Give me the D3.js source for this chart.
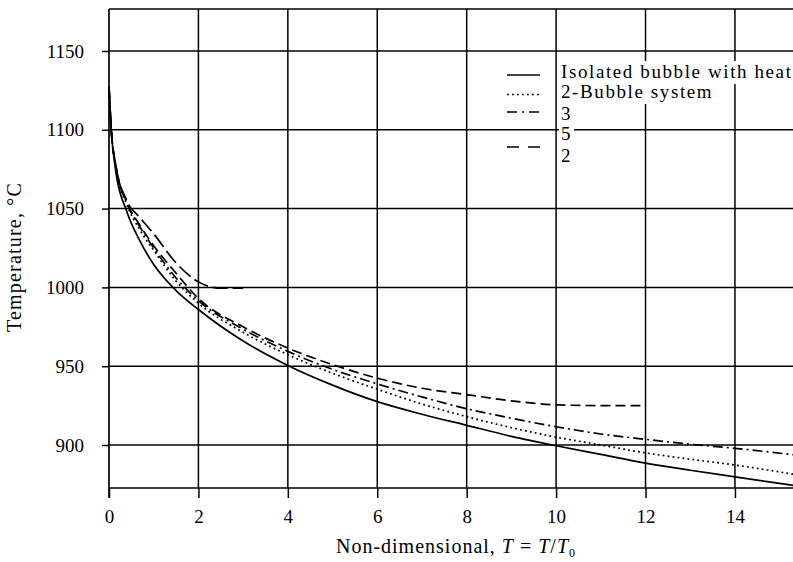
<!DOCTYPE html>
<html>
<head>
<meta charset="utf-8">
<script src="https://cdn.jsdelivr.net/npm/d3@7"></script>
<style>
body { margin: 0; background: #fff; }
svg { display: block; font-family: "Liberation Serif", "Times New Roman", serif; }
</style>
</head>
<body>
<div id="chart"></div>
<script>
// series labels, as printed in the legend
const seriesNames = ['Isolated bubble with heat', '2-Bubble system', '3', '5', '2'];

// non-dimensional time T/T0 and temperature (deg C)
const tIsolated = [0, 0.05, 0.15, 0.4, 0.7, 1, 1.5, 2, 3, 4, 5, 6, 7, 8, 9, 10, 11, 12, 13, 14, 15.4];
const tempIsolated = [1127, 1100, 1074, 1048, 1029, 1014.5, 998, 986, 966, 950.5, 938, 927.5, 919.5, 912.5, 905.5, 899.5, 894, 888.5, 884, 879.8, 874];

const tTwoBubble = [0, 0.05, 0.15, 0.4, 0.7, 1, 1.5, 2, 3, 4, 5, 6, 7, 8, 9, 10, 11, 12, 13, 14, 15.4];
const tempTwoBubble = [1127, 1100, 1076, 1052.5, 1036, 1023.5, 1004, 990, 971.5, 957.3, 945.5, 935.4, 926, 918, 911, 905, 900, 895, 891, 887.3, 881];

const tThree = [0, 0.05, 0.15, 0.4, 0.7, 1, 1.5, 2, 3, 4, 5, 6, 7, 8, 9, 10, 11, 12, 13, 14, 15.4];
const tempThree = [1127, 1100, 1077, 1053.5, 1038, 1025, 1006, 991.6, 973.5, 959.4, 948, 938.8, 930.5, 923, 917, 911.6, 907, 903.6, 900.5, 897.9, 893.5];

const tFive = [0, 0.05, 0.15, 0.4, 0.7, 1, 1.5, 2, 3, 4, 5, 6, 7, 8, 9, 10, 11, 12];
const tempFive = [1127, 1100, 1078, 1054, 1039, 1026.5, 1009, 993, 975, 961.5, 951, 942.4, 936, 932, 928, 925.5, 925, 925];

const tTwo = [0, 0.05, 0.15, 0.4, 0.7, 1, 1.5, 2, 2.5, 3];
const tempTwo = [1127, 1100, 1078, 1055, 1044, 1034, 1015.5, 1003.5, 999.5, 999.5];

const xTicks = [0, 2, 4, 6, 8, 10, 12, 14];
const yTicks = [900, 950, 1000, 1050, 1100, 1150];

const width = 793;
const height = 562;
const margin = {top: 9, left: 109, bottom: 74, right: -8};

const svg = d3.select('#chart')
  .append('svg')
  .attr('width', width)
  .attr('height', height);

const x = d3.scaleLinear()
  .domain([0, 14])
  .range([margin.left, margin.left + 14 * 44.71]);

const y = d3.scaleLinear()
  .domain([900, 1150])
  .range([445, 51]);

const plotRight = width - margin.right;
const plotBottom = height - margin.bottom;

// grid
svg.append('g')
  .selectAll('line')
  .data(yTicks)
  .join('line')
  .attr('x1', margin.left)
  .attr('x2', plotRight)
  .attr('y1', d => y(d))
  .attr('y2', d => y(d))
  .attr('stroke', '#000')
  .attr('stroke-width', 1.5);

svg.append('g')
  .selectAll('line')
  .data(xTicks.slice(1))
  .join('line')
  .attr('x1', d => x(d))
  .attr('x2', d => x(d))
  .attr('y1', margin.top)
  .attr('y2', plotBottom)
  .attr('stroke', '#000')
  .attr('stroke-width', 1.5);

// top frame line
svg.append('line')
  .attr('x1', margin.left)
  .attr('x2', plotRight)
  .attr('y1', margin.top)
  .attr('y2', margin.top)
  .attr('stroke', '#000')
  .attr('stroke-width', 1.5);

// axes
const xAxis = svg.append('g')
  .attr('transform', `translate(0,${plotBottom})`)
  .call(d3.axisBottom(x).tickValues(xTicks).tickSize(10).tickSizeOuter(0).tickPadding(12).tickFormat(d3.format('d')));

xAxis.select('.domain').remove();
xAxis.append('line')
  .attr('x1', margin.left)
  .attr('x2', plotRight)
  .attr('stroke', '#000')
  .attr('stroke-width', 1.7);

const yAxis = svg.append('g')
  .attr('transform', `translate(${margin.left},0)`)
  .call(d3.axisLeft(y).tickValues(yTicks).tickSize(7).tickSizeOuter(0).tickPadding(18).tickFormat(d3.format('d')));

yAxis.select('.domain').remove();
yAxis.append('line')
  .attr('y1', margin.top)
  .attr('y2', plotBottom + 10)
  .attr('stroke', '#000')
  .attr('stroke-width', 1.7);

svg.selectAll('.tick line').attr('stroke', '#000').attr('stroke-width', 1.5);
svg.selectAll('.tick text')
  .attr('fill', '#000')
  .style('font-family', '"Liberation Serif", "Times New Roman", serif')
  .style('font-size', '19px');

// curves
const line = d3.line()
  .x(d => x(d[0]))
  .y(d => y(d[1]))
  .curve(d3.curveMonotoneX);

const curves = [
  {t: tIsolated, v: tempIsolated, dash: null},
  {t: tTwoBubble, v: tempTwoBubble, dash: '1.8,3.2'},
  {t: tThree, v: tempThree, dash: '10,4,2,4'},
  {t: tFive, v: tempFive, dash: '10,5'},
  {t: tTwo, v: tempTwo, dash: '15,5'}
];

svg.append('g')
  .selectAll('path')
  .data(curves)
  .join('path')
  .attr('d', c => line(d3.zip(c.t, c.v)))
  .attr('fill', 'none')
  .attr('stroke', '#000')
  .attr('stroke-width', 1.7)
  .attr('stroke-dasharray', c => c.dash);

// legend
const legendTextY = [78, 98, 120, 140, 162];
const legendSymbolY = [75, 94.5, 112, 147, null];
const legendDash = [null, '1.8,3.2', '10,5,2,5', '12,9', null];

const legend = svg.append('g');

seriesNames.forEach((name, i) => {
  const txt = legend.append('text')
    .attr('x', 561)
    .attr('y', legendTextY[i])
    .attr('font-size', 19)
    .attr('letter-spacing', '1.6px')
    .text(name);
  const bb = txt.node().getBBox();
  legend.insert('rect', 'text')
    .attr('x', bb.x - 2)
    .attr('y', bb.y)
    .attr('width', bb.width + 4)
    .attr('height', bb.height + 2)
    .attr('fill', '#fff');
  if (legendSymbolY[i] !== null) {
    legend.append('line')
      .attr('x1', 507)
      .attr('x2', 540)
      .attr('y1', legendSymbolY[i])
      .attr('y2', legendSymbolY[i])
      .attr('stroke', '#000')
      .attr('stroke-width', 1.6)
      .attr('stroke-dasharray', legendDash[i]);
  }
});

// axis titles
svg.append('text')
  .attr('transform', 'translate(21,257) rotate(-90)')
  .attr('text-anchor', 'middle')
  .attr('font-size', 20)
  .attr('letter-spacing', '1.2px')
  .text('Temperature, °C');

const xTitle = svg.append('text')
  .attr('x', 456)
  .attr('y', 553)
  .attr('text-anchor', 'middle')
  .attr('font-size', 20)
  .attr('letter-spacing', '1px');
xTitle.append('tspan').text('Non-dimensional, ');
xTitle.append('tspan').attr('font-style', 'italic').text('T');
xTitle.append('tspan').text(' = ');
xTitle.append('tspan').attr('font-style', 'italic').text('T');
xTitle.append('tspan').text('/');
xTitle.append('tspan').attr('font-style', 'italic').text('T');
xTitle.append('tspan').attr('font-size', 12).attr('dy', 4).text('0');
</script>
</body>
</html>
